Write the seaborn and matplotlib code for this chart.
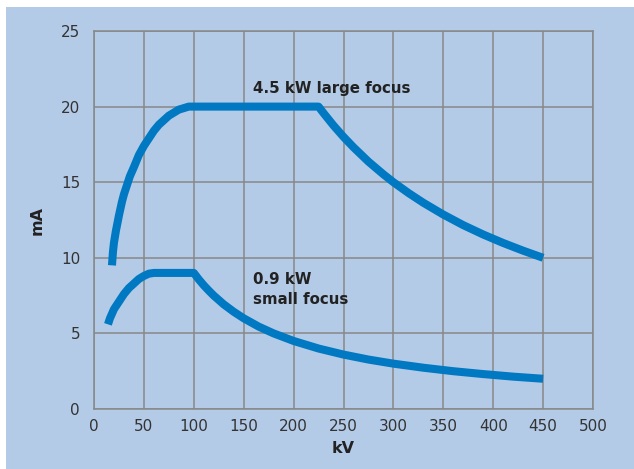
import numpy as np
import pandas as pd
import seaborn as sns
import matplotlib.pyplot as plt
from matplotlib.patches import Rectangle

# values
large_kv = [18, 19, 20, 22, 25, 28, 30, 33, 36, 40, 45, 50, 55, 60, 65, 70, 75,
            80, 85, 90, 95, 100, 225, 230, 240, 250, 260, 275, 290, 300, 315,
            330, 350, 370, 390, 410, 430, 450]
large_ma = [9.5, 10.4, 11.0, 11.8, 12.8, 13.7, 14.2, 14.8, 15.4, 16.0, 16.8,
            17.4, 17.9, 18.4, 18.8, 19.1, 19.4, 19.6, 19.8, 19.9, 20.0, 20.0,
            20.0, 19.57, 18.75, 18.0, 17.31, 16.36, 15.52, 15.0, 14.29, 13.64,
            12.86, 12.16, 11.54, 10.98, 10.47, 10.0]

small_kv = [14, 16, 18, 20, 25, 30, 35, 40, 45, 50, 55, 60, 100, 105, 110, 115,
            120, 130, 140, 150, 165, 180, 200, 225, 250, 275, 300, 330, 360,
            390, 420, 450]
small_ma = [5.6, 6.0, 6.3, 6.6, 7.1, 7.6, 8.0, 8.3, 8.6, 8.8, 8.95, 9.0, 9.0,
            8.57, 8.18, 7.83, 7.5, 6.92, 6.43, 6.0, 5.45, 5.0, 4.5, 4.0, 3.6,
            3.27, 3.0, 2.73, 2.5, 2.31, 2.14, 2.0]

x_ticks = [0, 50, 100, 150, 200, 250, 300, 350, 400, 450, 500]
y_ticks = [0, 5, 10, 15, 20, 25]

BG = '#b4cbe8'
LINE = '#0079c2'
GRID = '#888888'

df = pd.concat([
    pd.DataFrame({'kV': large_kv, 'mA': large_ma, 'focus': 'large'}),
    pd.DataFrame({'kV': small_kv, 'mA': small_ma, 'focus': 'small'}),
])

sns.set_style('white')
plt.rcParams['font.family'] = ['DejaVu Sans']

fig = plt.figure(figsize=(6.34, 4.69), dpi=100, facecolor='white')
fig.patches.append(Rectangle((6 / 634, 0), 1, 1 - 7 / 469, transform=fig.transFigure,
                             facecolor=BG, edgecolor='none', zorder=-1))
ax = fig.add_axes([94 / 634, 1 - 409 / 469, 499 / 634, 378 / 469])
ax.set_facecolor(BG)

sns.lineplot(data=df, x='kV', y='mA', units='focus', estimator=None, sort=False,
             color=LINE, linewidth=5.8, ax=ax, legend=False)
for ln in ax.get_lines():
    ln.set_solid_capstyle('butt')
    ln.set_solid_joinstyle('round')

ax.set_xlim(0, 500)
ax.set_ylim(0, 25)
ax.set_xticks(x_ticks)
ax.set_yticks(y_ticks)
ax.grid(True, color=GRID, linewidth=1.1)
ax.set_axisbelow(True)
for s in ax.spines.values():
    s.set_color(GRID)
    s.set_linewidth(1.1)
ax.tick_params(axis='both', length=0, labelsize=11, labelcolor='#333333')
ax.tick_params(axis='x', pad=7)
ax.tick_params(axis='y', pad=10)

ax.set_xlabel('kV', fontsize=11.5, fontweight='bold', color='#222222', labelpad=5)
ax.set_ylabel('mA', fontsize=11.5, fontweight='bold', color='#222222', labelpad=12)

ax.text(159, 21.2, '4.5 kW large focus', fontsize=10.8, fontweight='bold',
        color='#222222', va='center', ha='left')
ax.text(159, 7.9, '0.9 kW\nsmall focus', fontsize=10.8, fontweight='bold',
        color='#222222', va='center', ha='left', linespacing=1.45)

fig.savefig('out.png', dpi=100, facecolor=fig.get_facecolor())
